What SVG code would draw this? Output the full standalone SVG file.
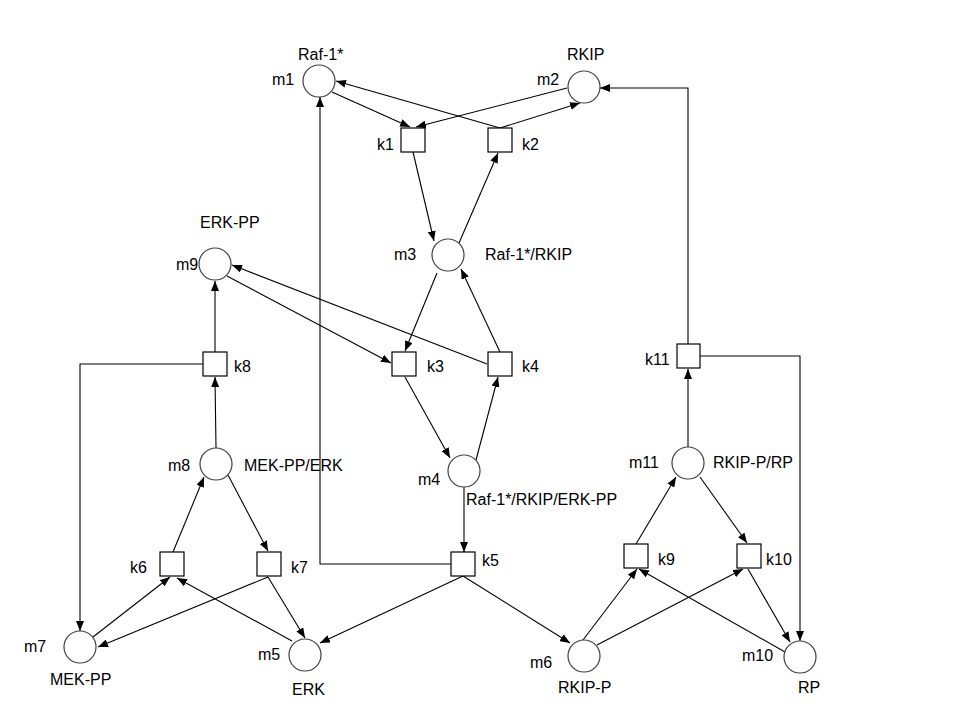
<svg xmlns="http://www.w3.org/2000/svg" width="960" height="720" viewBox="0 0 960 720">
<style>
.pl{fill:#fff;stroke:#404040;stroke-width:1.2}
.tr{fill:#fff;stroke:#000;stroke-width:1.2}
.e{fill:none;stroke:#000;stroke-width:1.1;marker-end:url(#a)}
text{font-family:"Liberation Sans",Arial,sans-serif;font-size:16px;fill:#000}
</style>
<defs>
<marker id="a" viewBox="0 0 10 8" refX="10" refY="4" markerWidth="10" markerHeight="8" orient="auto" markerUnits="userSpaceOnUse"><path d="M0,0 L10,4 L0,8 z" fill="#000"/></marker>
</defs>
<rect width="960" height="720" fill="#fff"/>
<g id="connectors">
<path class="e" d="M332,92 L410,127"/>
<path class="e" d="M567,88 L416,127"/>
<path class="e" d="M500,128 L336,81"/>
<path class="e" d="M500,128 L580,103"/>
<path class="e" d="M413,152 L434,241"/>
<path class="e" d="M459,243 L498,153"/>
<path class="e" d="M437,273 L405,351"/>
<path class="e" d="M500,352 L461,269"/>
<path class="e" d="M227,276 L391,363"/>
<path class="e" d="M487,364 L232,265"/>
<path class="e" d="M215,352 L215,281"/>
<path class="e" d="M405,377 L450,458"/>
<path class="e" d="M476,460 L498,377"/>
<path class="e" d="M464,487 L464,552"/>
<path class="e" d="M451,564 L320,564 L320,97"/>
<path class="e" d="M463,576 L320,643"/>
<path class="e" d="M463,576 L570,643"/>
<path class="e" d="M583,640 L637,569"/>
<path class="e" d="M597,645 L743,569"/>
<path class="e" d="M785,652 L639,569"/>
<path class="e" d="M748,569 L790,642"/>
<path class="e" d="M636,544 L676,477"/>
<path class="e" d="M700,477 L747,543"/>
<path class="e" d="M688,447 L688,369"/>
<path class="e" d="M700,356 L800,356 L800,641"/>
<path class="e" d="M688,344 L688,88 L600,88"/>
<path class="e" d="M216,448 L215,377"/>
<path class="e" d="M203,364 L80,364 L80,631"/>
<path class="e" d="M173,552 L204,477"/>
<path class="e" d="M228,475 L268,551"/>
<path class="e" d="M93,637 L170,577"/>
<path class="e" d="M292,641 L177,578"/>
<path class="e" d="M268,577 L98,647"/>
<path class="e" d="M268,577 L305,638"/>
</g>
<g id="m1"><circle class="pl" cx="319" cy="81" r="16"/><text x="298" y="60">Raf-1*</text><text x="272" y="85">m1</text></g>
<g id="m2"><circle class="pl" cx="584" cy="87" r="16"/><text x="567" y="60">RKIP</text><text x="537" y="85">m2</text></g>
<g id="m3"><circle class="pl" cx="448" cy="255" r="16"/><text x="394" y="260">m3</text><text x="485" y="260">Raf-1*/RKIP</text></g>
<g id="m4"><circle class="pl" cx="464" cy="471" r="16"/><text x="418" y="485">m4</text><text x="466" y="505">Raf-1*/RKIP/ERK-PP</text></g>
<g id="m5"><circle class="pl" cx="305" cy="655" r="16"/><text x="258" y="660">m5</text><text x="292" y="695">ERK</text></g>
<g id="m6"><circle class="pl" cx="584" cy="656" r="16"/><text x="530" y="668">m6</text><text x="558" y="693">RKIP-P</text></g>
<g id="m7"><circle class="pl" cx="80" cy="647" r="16"/><text x="24" y="652">m7</text><text x="50" y="685">MEK-PP</text></g>
<g id="m8"><circle class="pl" cx="216" cy="464" r="16"/><text x="168" y="471">m8</text><text x="244" y="471">MEK-PP/ERK</text></g>
<g id="m9"><circle class="pl" cx="215" cy="264" r="16"/><text x="176" y="270">m9</text><text x="200" y="228">ERK-PP</text></g>
<g id="m10"><circle class="pl" cx="800" cy="657" r="16"/><text x="742" y="661">m10</text><text x="798" y="693">RP</text></g>
<g id="m11"><circle class="pl" cx="688" cy="463" r="16"/><text x="629" y="468">m11</text><text x="713" y="468">RKIP-P/RP</text></g>
<g id="k1"><rect class="tr" x="401" y="128" width="24" height="24"/><text x="377" y="150">k1</text></g>
<g id="k2"><rect class="tr" x="488" y="128" width="24" height="24"/><text x="522" y="150">k2</text></g>
<g id="k3"><rect class="tr" x="392" y="352" width="24" height="24"/><text x="427" y="372">k3</text></g>
<g id="k4"><rect class="tr" x="488" y="352" width="24" height="24"/><text x="522" y="372">k4</text></g>
<g id="k5"><rect class="tr" x="451" y="552" width="24" height="24"/><text x="482" y="566">k5</text></g>
<g id="k6"><rect class="tr" x="160" y="552" width="24" height="24"/><text x="130" y="573">k6</text></g>
<g id="k7"><rect class="tr" x="257" y="552" width="24" height="24"/><text x="291" y="573">k7</text></g>
<g id="k8"><rect class="tr" x="203" y="352" width="24" height="24"/><text x="234" y="372">k8</text></g>
<g id="k9"><rect class="tr" x="624" y="544" width="24" height="24"/><text x="658" y="565">k9</text></g>
<g id="k10"><rect class="tr" x="737" y="544" width="24" height="24"/><text x="766" y="565">k10</text></g>
<g id="k11"><rect class="tr" x="677" y="344" width="23" height="24"/><text x="645" y="365">k11</text></g>
</svg>
